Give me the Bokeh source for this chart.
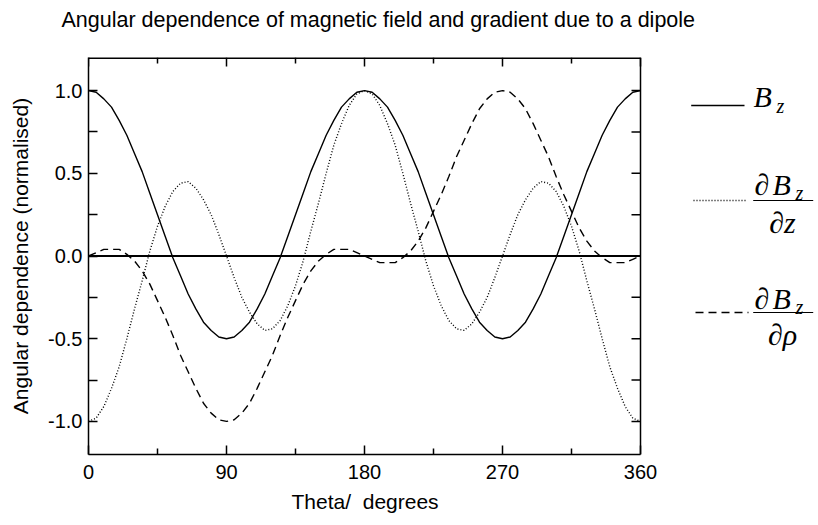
from bokeh.plotting import figure
from bokeh.models import Range1d, FixedTicker, Span, Label, Arrow, Title
from bokeh.embed import file_html
from bokeh.resources import INLINE

# ---------------- data ----------------
theta = [0, 5, 10, 15, 20, 25, 30, 35, 40, 45, 50, 55, 60, 65, 70, 75, 80, 85, 90,
         95, 100, 105, 110, 115, 120, 125, 130, 135, 140, 145, 150, 155, 160, 165, 170, 175, 180,
         185, 190, 195, 200, 205, 210, 215, 220, 225, 230, 235, 240, 245, 250, 255, 260, 265, 270,
         275, 280, 285, 290, 295, 300, 305, 310, 315, 320, 325, 330, 335, 340, 345, 350, 355, 360]

b_z = [1.00, 0.99, 0.95, 0.90, 0.82, 0.73, 0.62, 0.51, 0.38, 0.25, 0.12, -0.01, -0.12, -0.23, -0.32, -0.40, -0.45, -0.49, -0.50,
       -0.49, -0.45, -0.40, -0.32, -0.23, -0.12, -0.01, 0.12, 0.25, 0.38, 0.51, 0.62, 0.73, 0.82, 0.90, 0.95, 0.99, 1.00,
       0.99, 0.95, 0.90, 0.82, 0.73, 0.62, 0.51, 0.38, 0.25, 0.12, -0.01, -0.12, -0.23, -0.32, -0.40, -0.45, -0.49, -0.50,
       -0.49, -0.45, -0.40, -0.32, -0.23, -0.12, -0.01, 0.12, 0.25, 0.38, 0.51, 0.62, 0.73, 0.82, 0.90, 0.95, 0.99, 1.00]

dbz_dz = [-1.00, -0.98, -0.91, -0.80, -0.67, -0.50, -0.32, -0.15, 0.03, 0.18, 0.30, 0.39, 0.44, 0.45, 0.41, 0.34, 0.25, 0.13, 0.00,
          -0.13, -0.25, -0.34, -0.41, -0.45, -0.44, -0.39, -0.30, -0.18, -0.03, 0.15, 0.32, 0.50, 0.67, 0.80, 0.91, 0.98, 1.00,
          0.98, 0.91, 0.80, 0.67, 0.50, 0.32, 0.15, -0.03, -0.18, -0.30, -0.39, -0.44, -0.45, -0.41, -0.34, -0.25, -0.13, 0.00,
          0.13, 0.25, 0.34, 0.41, 0.45, 0.44, 0.39, 0.30, 0.18, 0.03, -0.15, -0.32, -0.50, -0.67, -0.80, -0.91, -0.98, -1.00]

dbz_drho = [0.00, 0.02, 0.04, 0.04, 0.04, 0.01, -0.03, -0.09, -0.17, -0.27, -0.37, -0.48, -0.60, -0.70, -0.80, -0.89, -0.95, -0.99, -1.00,
            -0.99, -0.95, -0.89, -0.80, -0.70, -0.60, -0.48, -0.37, -0.27, -0.17, -0.09, -0.03, 0.01, 0.04, 0.04, 0.04, 0.02, 0.00,
            -0.02, -0.04, -0.04, -0.04, -0.01, 0.03, 0.09, 0.17, 0.27, 0.37, 0.48, 0.60, 0.70, 0.80, 0.89, 0.95, 0.99, 1.00,
            0.99, 0.95, 0.89, 0.80, 0.70, 0.60, 0.48, 0.37, 0.27, 0.17, 0.09, 0.03, -0.01, -0.04, -0.04, -0.04, -0.02, 0.00]

x_ticks = [0, 90, 180, 270, 360]
x_tick_labels = ["0", "90", "180", "270", "360"]
x_minor = [45, 135, 225, 315]
y_ticks = [-1.0, -0.5, 0.0, 0.5, 1.0]
y_tick_labels = ["-1.0", "-0.5", "0.0", "0.5", "1.0"]
y_minor = [-0.75, -0.25, 0.25, 0.75]

title_text = "Angular dependence of magnetic field and gradient due to a dipole"
x_label = "Theta/\u00a0 degrees"
y_label = "Angular dependence (normalised)"

SANS = "Liberation Sans"
SERIF = "Liberation Serif"

# ---------------- layout constants (pixels) ----------------
W, H = 818, 525
FR_L, FR_R, FR_T, FR_B = 88, 640, 57, 454          # the boxed plot area
X0, X1, Y0, Y1 = x_ticks[0], x_ticks[-1], -1.2, 1.2
PX_PER_X = (FR_R - FR_L) / (X1 - X0)
PX_PER_Y = (FR_B - FR_T) / (Y1 - Y0)
X_VIS = X1 + (W - FR_R) / PX_PER_X                   # frame extends right for the legend


def dx(px):
    return X0 + (px - FR_L) / PX_PER_X


def dy(py):
    return Y1 - (py - FR_T) / PX_PER_Y


p = figure(width=W, height=H, frame_width=W - FR_L, frame_height=FR_B - FR_T,
           x_range=Range1d(X0, X_VIS), y_range=Range1d(Y0, Y1),
           output_backend="svg", toolbar_location=None,
           min_border_left=FR_L, min_border_right=0,
           min_border_top=FR_T, min_border_bottom=H - FR_B)
p.grid.visible = False
p.outline_line_color = None
p.background_fill_color = "white"
p.border_fill_color = "white"

# title: a second (blank) line keeps the first line near the top of the page
p.title.text = title_text + "\n\u00a0"
p.title.align = "left"
p.title.vertical_align = "top"
p.title.offset = -27
p.title.standoff = 0
p.title.text_font = SANS
p.title.text_font_size = "21.5px"
p.title.text_font_style = "normal"
p.title.text_color = "black"


def style_axis(ax, ticks, minor, labels, major_len, minor_len):
    ax.ticker = FixedTicker(ticks=ticks, minor_ticks=minor)
    ax.axis_line_color = "black"
    ax.axis_line_width = 1.5
    ax.major_tick_in = major_len
    ax.major_tick_out = 0
    ax.minor_tick_in = minor_len
    ax.minor_tick_out = 0
    ax.major_tick_line_width = 1.5
    ax.minor_tick_line_width = 1.5
    ax.major_tick_line_color = "black"
    ax.minor_tick_line_color = "black"
    ax.major_label_overrides = {t: s for t, s in zip(ticks, labels)}
    ax.major_label_text_font = SANS
    ax.major_label_text_font_size = "20px"
    ax.major_label_text_color = "black"
    ax.axis_label_text_font = SANS
    ax.axis_label_text_font_size = "21px"
    ax.axis_label_text_font_style = "normal"
    ax.axis_label_text_color = "black"


xb = p.xaxis[0]
style_axis(xb, x_ticks, x_minor, x_tick_labels, 9, 6)
xb.bounds = (X0, X1)
xb.major_label_standoff = 10

# x-axis title, centred under the boxed area (not under the wider frame)
p.add_layout(Title(text=x_label, align="left", offset=203, standoff=12,
                   text_font=SANS, text_font_size="21px", text_font_style="normal",
                   text_color="black"), "below")

yl = p.yaxis[0]
style_axis(yl, y_ticks, y_minor, y_tick_labels, 9, 9)
yl.axis_label = y_label
yl.major_label_standoff = 6
yl.axis_label_standoff = 13

# top and right sides of the box, with inward ticks
p.segment(x0=[X0], x1=[X1], y0=[Y1], y1=[Y1], line_color="black", line_width=3)
p.add_layout(Span(location=X1, dimension="height", line_color="black", line_width=1.5))

major_x_len = 9 / PX_PER_Y
minor_x_len = 6 / PX_PER_Y
p.segment(x0=x_ticks, x1=x_ticks, y0=[Y1] * len(x_ticks), y1=[Y1 - major_x_len] * len(x_ticks),
          line_color="black", line_width=1.5)
p.segment(x0=x_minor, x1=x_minor, y0=[Y1] * len(x_minor), y1=[Y1 - minor_x_len] * len(x_minor),
          line_color="black", line_width=1.5)

y_len = 9 / PX_PER_X
all_y_ticks = y_ticks + y_minor
p.segment(x0=[X1 - y_len] * len(all_y_ticks), x1=[X1] * len(all_y_ticks),
          y0=all_y_ticks, y1=all_y_ticks, line_color="black", line_width=1.5)

# zero line across the box
p.segment(x0=[X0], x1=[X1], y0=[0], y1=[0], line_color="black", line_width=2)

p.line(theta, b_z, line_color="black", line_width=1.4)
p.line(theta, dbz_dz, line_color="black", line_width=1.4, line_dash="1 2")
p.line(theta, dbz_drho, line_color="black", line_width=1.4, line_dash="8 5")

# ---------------- legend (right of the box) ----------------


def seg(x0, x1, y, dash="solid", width=1.4):
    p.add_layout(Arrow(end=None, start=None, x_start=dx(x0), y_start=dy(y),
                       x_end=dx(x1), y_end=dy(y), line_color="black",
                       line_width=width, line_dash=dash))


def lab(x, y, t, size, align="left"):
    p.add_layout(Label(x=dx(x), y=dy(y), text=t, text_font=SERIF, text_font_style="italic",
                       text_font_size=size, text_color="black",
                       text_baseline="middle", text_align=align))


seg(690.7, 744, 105)
seg(693, 746, 200, "1 2")
seg(695, 748, 312, "8 5")
seg(752.7, 812.7, 200, width=1.2)
seg(752.7, 812.7, 312, width=1.2)

BIG = "30px"
SUB = "20px"
# B_z
lab(753, 96, "B", BIG)
lab(776, 105, "z", SUB)
# dBz/dz
lab(754, 184, "\u2202", BIG)
lab(772, 184, "B", BIG)
lab(795, 192, "z", SUB)
lab(782, 222, "\u2202z", BIG, "center")
# dBz/drho
lab(754, 298, "\u2202", BIG)
lab(772, 298, "B", BIG)
lab(795, 306, "z", SUB)
lab(782, 334, "\u2202\u03c1", BIG, "center")

open("out.html", "w").write(file_html(p, INLINE))
